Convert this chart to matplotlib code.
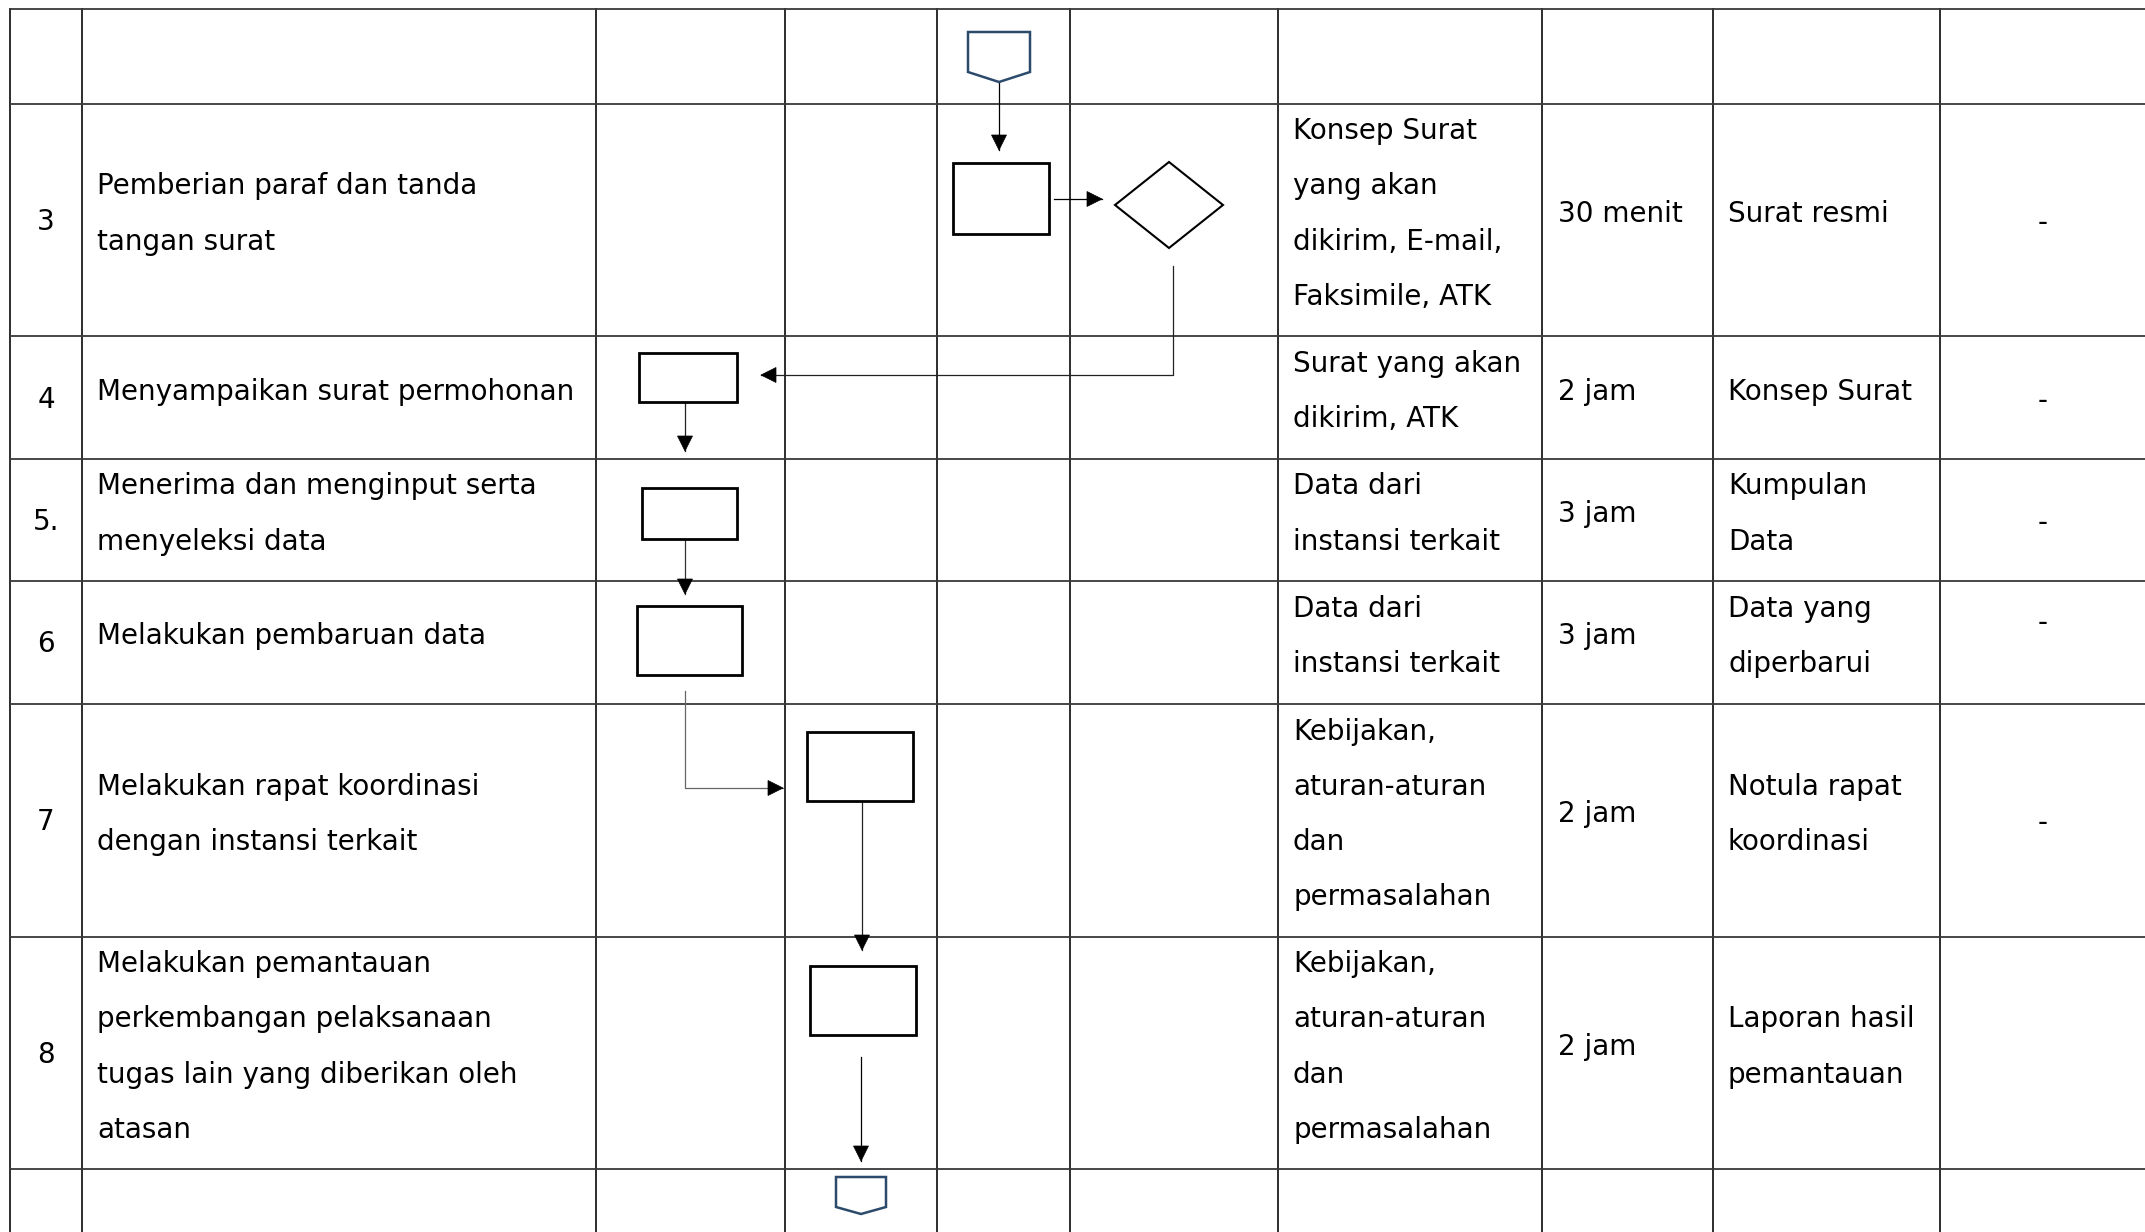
import matplotlib
matplotlib.use("Agg")
import matplotlib.pyplot as plt
from matplotlib.patches import Polygon, Rectangle

# table content, one entry per process step
step_no = ["3", "4", "5.", "6", "7", "8"]
activity = [
    ["Pemberian paraf dan tanda", "tangan surat"],
    ["Menyampaikan surat permohonan"],
    ["Menerima dan menginput serta", "menyeleksi data"],
    ["Melakukan pembaruan data"],
    ["Melakukan rapat koordinasi", "dengan instansi terkait"],
    ["Melakukan pemantauan", "perkembangan pelaksanaan",
     "tugas lain yang diberikan oleh", "atasan"],
]
inputs = [
    ["Konsep Surat", "yang akan", "dikirim, E-mail,", "Faksimile, ATK"],
    ["Surat yang akan", "dikirim, ATK"],
    ["Data dari", "instansi terkait"],
    ["Data dari", "instansi terkait"],
    ["Kebijakan,", "aturan-aturan", "dan", "permasalahan"],
    ["Kebijakan,", "aturan-aturan", "dan", "permasalahan"],
]
durations = ["30 menit", "2 jam", "3 jam", "3 jam", "2 jam", "2 jam"]
outputs = [
    ["Surat resmi"],
    ["Konsep Surat"],
    ["Kumpulan", "Data"],
    ["Data yang", "diperbarui"],
    ["Notula rapat", "koordinasi"],
    ["Laporan hasil", "pemantauan"],
]
remarks = ["-", "-", "-", "-", "-", ""]

# layout of the page (pixels)
W, H = 2145, 1232
col_edges = [10, 82, 596, 785, 937, 1070, 1278, 1542, 1713, 1940, 2146]
row_edges = [9, 104, 336, 459, 581, 704, 937, 1169, 1300]
remark_shift = [0, 0, 0, -22, 0, 0]
line_gap = 55.3

# flowchart symbols
process_boxes = [(953, 163, 1049, 234), (639, 353, 737, 402),
                 (642, 488, 737, 539), (637, 606, 742, 675),
                 (807, 732, 913, 801), (810, 966, 916, 1035)]
decision = (1169, 205, 54, 43)
connectors = [(999, 32, 31, 40, 10), (861, 1177, 25, 30, 7)]
arrows = [
    ([(999, 82), (999, 150)], "black"),
    ([(1054, 199), (1102, 199)], "black"),
    ([(1173, 266), (1173, 375), (761, 375)], "#222222"),
    ([(685, 402), (685, 451)], "#222222"),
    ([(685, 539), (685, 594)], "#333333"),
    ([(685, 691), (685, 788), (783, 788)], "#666666"),
    ([(862, 801), (862, 950)], "#222222"),
    ([(861, 1057), (861, 1161)], "black"),
]

fig = plt.figure(figsize=(W / 100, H / 100), dpi=100)
ax = fig.add_axes([0, 0, 1, 1])
ax.set_xlim(0, W)
ax.set_ylim(H, 0)
ax.axis("off")

# grid
for x in col_edges:
    ax.plot([x, x], [row_edges[0], row_edges[-1]], color="#1c1c1c", lw=1.3)
for y in row_edges[:-1]:
    ax.plot([col_edges[0], W], [y, y], color="#383838", lw=1.3)

font = dict(family="DejaVu Sans", fontsize=20, color="black")


def put_lines(x, lines, yc, ha="left"):
    n = len(lines)
    for i, s in enumerate(lines):
        yb = yc + 2 + (i - (n - 1) / 2) * line_gap
        ax.text(x, yb, s, ha=ha, va="baseline", **font)


for r in range(len(step_no)):
    y0, y1 = row_edges[r + 1], row_edges[r + 2]
    yc = (y0 + y1) / 2
    ax.text((col_edges[0] + col_edges[1]) / 2, yc + 10, step_no[r],
            ha="center", va="baseline", **font)
    put_lines(col_edges[1] + 15, activity[r], yc)
    put_lines(col_edges[6] + 15, inputs[r], yc)
    put_lines(col_edges[7] + 16, [durations[r]], yc)
    put_lines(col_edges[8] + 15, outputs[r], yc)
    if remarks[r]:
        ax.text(2043, yc + 11 + remark_shift[r], remarks[r],
                ha="center", va="baseline", **font)

# symbols
for x0, y0, x1, y1 in process_boxes:
    ax.add_patch(Rectangle((x0, y0), x1 - x0, y1 - y0, fill=False,
                           ec="black", lw=2.0, zorder=3))
cx, cy, hw, hh = decision
ax.add_patch(Polygon([(cx - hw, cy), (cx, cy - hh), (cx + hw, cy), (cx, cy + hh)],
                     closed=True, fill=False, ec="black", lw=1.5, zorder=3))
for cx, top, hw, side, tip in connectors:
    pts = [(cx - hw, top), (cx + hw, top), (cx + hw, top + side),
           (cx, top + side + tip), (cx - hw, top + side)]
    ax.add_patch(Polygon(pts, closed=True, fill=False, ec="#2c4a6b",
                         lw=1.8, zorder=3))

for pts, c in arrows:
    xs = [p[0] for p in pts]
    ys = [p[1] for p in pts]
    ax.plot(xs, ys, color=c, lw=0.9, zorder=2)
    (xa, ya), (xb, yb) = pts[-2], pts[-1]
    d = ((xb - xa) ** 2 + (yb - ya) ** 2) ** 0.5
    ux, uy = (xb - xa) / d, (yb - ya) / d
    L, hw2 = 15, 7.5
    bx, by = xb - ux * L, yb - uy * L
    head = [(xb, yb), (bx - uy * hw2, by + ux * hw2), (bx + uy * hw2, by - ux * hw2)]
    ax.add_patch(Polygon(head, closed=True, fc="black", ec="black", lw=0.5, zorder=4))

fig.savefig("out.png", dpi=100, facecolor="white")
